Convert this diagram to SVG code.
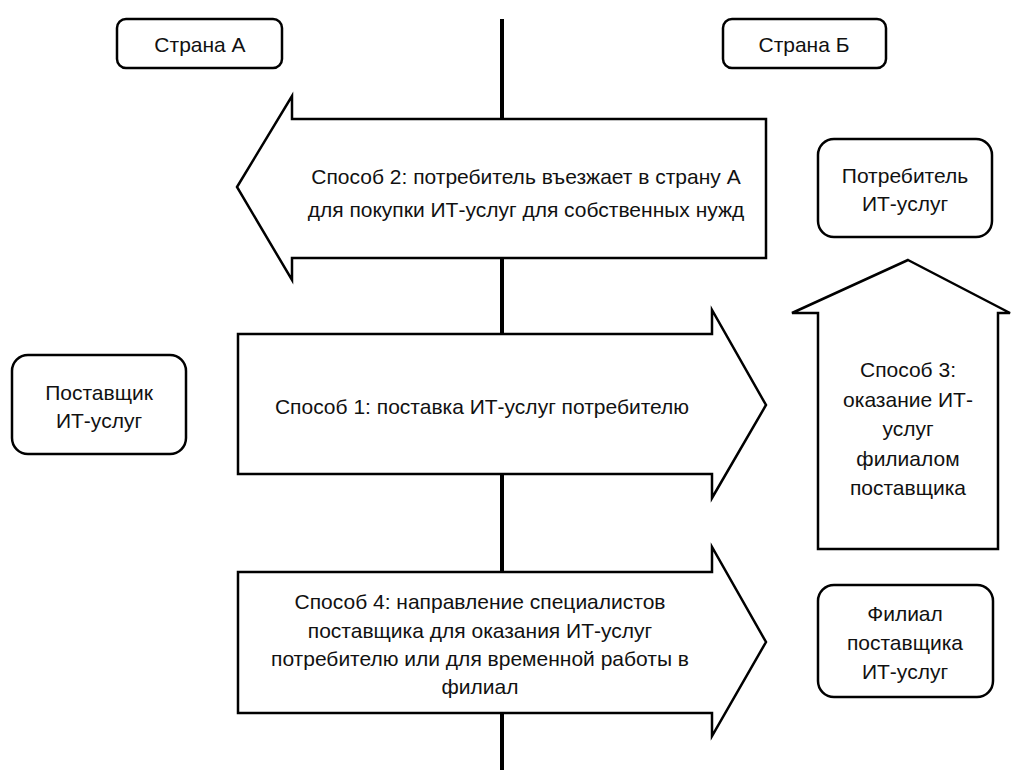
<svg xmlns="http://www.w3.org/2000/svg" width="1012" height="770" viewBox="0 0 1012 770">
<style>
  .box{fill:#fff;stroke:#000;stroke-width:2.5}
  .arrow{fill:#fff;stroke:#000;stroke-width:2.5;stroke-linejoin:miter}
  .axis{stroke:#000;stroke-width:4}
  text{font-family:"Liberation Sans",Arial,sans-serif;font-size:21px;fill:#111;text-anchor:middle}
</style>
<rect width="1012" height="770" fill="#fff"/>
<g id="connectors">
  <line class="axis" x1="502" y1="19" x2="502" y2="770"/>
</g>
<g id="country-a">
  <rect class="box" x="117" y="19" width="165" height="49" rx="9"/>
  <text x="200" y="52">Страна А</text>
</g>
<g id="country-b">
  <rect class="box" x="723" y="19" width="163" height="49" rx="9"/>
  <text x="804" y="52">Страна Б</text>
</g>
<g id="mode2">
  <polygon class="arrow" points="237,187 292,96 292,119 766,119 766,258 292,258 292,280"/>
  <text x="526" y="184">Способ 2: потребитель въезжает в страну А</text>
  <text x="526" y="217">для покупки ИТ-услуг для собственных нужд</text>
</g>
<g id="consumer">
  <rect class="box" x="818" y="139" width="174" height="98" rx="16"/>
  <text x="905" y="183">Потребитель</text>
  <text x="905" y="211">ИТ-услуг</text>
</g>
<g id="supplier">
  <rect class="box" x="12" y="355" width="174" height="99" rx="16"/>
  <text x="99" y="400">Поставщик</text>
  <text x="99" y="428">ИТ-услуг</text>
</g>
<g id="mode1">
  <polygon class="arrow" points="238,334 712,334 712,310 766,405 712,498 712,474 238,474"/>
  <text x="482" y="414">Способ 1: поставка ИТ-услуг потребителю</text>
</g>
<g id="mode3">
  <polygon class="arrow" points="908,260 1010,313 998,313 998,549 818,549 818,313 792,313"/>
  <text x="908" y="377">Способ 3:</text>
  <text x="908" y="407">оказание ИТ-</text>
  <text x="908" y="436">услуг</text>
  <text x="908" y="466">филиалом</text>
  <text x="908" y="495">поставщика</text>
</g>
<g id="mode4">
  <polygon class="arrow" points="238,572 712,572 712,547 766,642 712,736 712,713 238,713"/>
  <text x="480" y="609">Способ 4: направление специалистов</text>
  <text x="480" y="638">поставщика для оказания ИТ-услуг</text>
  <text x="480" y="666">потребителю или для временной работы в</text>
  <text x="480" y="694">филиал</text>
</g>
<g id="branch">
  <rect class="box" x="818" y="585" width="175" height="112" rx="16"/>
  <text x="905" y="621">Филиал</text>
  <text x="905" y="650">поставщика</text>
  <text x="905" y="679">ИТ-услуг</text>
</g>
</svg>
